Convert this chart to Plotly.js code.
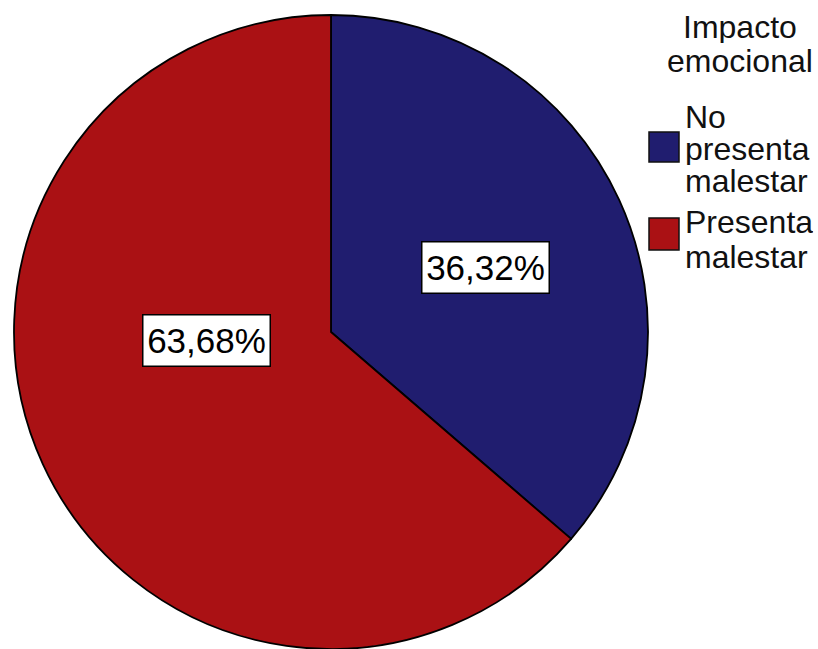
<!DOCTYPE html>
<html>
<head>
<meta charset="utf-8">
<script src="https://cdn.plot.ly/plotly-3.0.1.min.js"></script>
<style>
  html, body { margin: 0; padding: 0; background: #ffffff; }
  #chart { width: 818px; height: 649px; }
</style>
</head>
<body>
<div id="chart"></div>
<script>
// ---- data ----
const labels = ["No presenta malestar", "Presenta malestar"];
const values = [36.32, 63.68];
const colors = ["#201d6f", "#aa1114"];
const legendTitleLines = ["Impacto", "emocional"];

// ---- layout helpers (pixel -> paper) ----
const W = 818, H = 649;
const px = x => x / W;
const py = y => 1 - y / H;
const FONT = "Liberation Sans, Arial, sans-serif";

const percentText = values.map(v => v.toFixed(2).replace('.', ',') + '%');

// label box centers (pixels)
const labelPos = [[485, 267], [207, 340]];

const annotations = [];
percentText.forEach((t, i) => {
  annotations.push({
    xref: 'paper', yref: 'paper',
    x: px(labelPos[i][0]), y: py(labelPos[i][1]),
    xanchor: 'center', yanchor: 'middle',
    text: t, showarrow: false,
    font: {family: FONT, size: 35, color: '#000'},
    bgcolor: '#ffffff', bordercolor: '#000000', borderwidth: 1.5,
    width: 124, height: 48, borderpad: 1
  });
});

// legend title
const titleY = [27, 61];
legendTitleLines.forEach((t, i) => {
  annotations.push({
    xref: 'paper', yref: 'paper', x: px(740), y: py(titleY[i]),
    xanchor: 'center', yanchor: 'middle', showarrow: false,
    text: t, font: {family: FONT, size: 32, color: '#111'},
    height: 33, borderpad: 0
  });
});

// legend items
const itemLineY = [[117, 149, 181], [222, 257]];
const swatchY = [[132, 162], [218, 250]];
const shapes = [];
labels.forEach((lab, i) => {
  shapes.push({
    type: 'rect', xref: 'paper', yref: 'paper',
    x0: px(649), x1: px(679), y0: py(swatchY[i][0]), y1: py(swatchY[i][1]),
    fillcolor: colors[i], line: {color: '#111', width: 1.5}
  });
  lab.split(' ').forEach((w, j) => {
    annotations.push({
      xref: 'paper', yref: 'paper', x: px(684), y: py(itemLineY[i][j]),
      xanchor: 'left', yanchor: 'middle', showarrow: false,
      text: w, font: {family: FONT, size: 32, color: '#111'},
      height: 32, borderpad: 0
    });
  });
});

const trace = {
  type: 'pie',
  labels: labels,
  values: values,
  sort: false,
  direction: 'clockwise',
  rotation: 0,
  textinfo: 'none',
  hoverinfo: 'none',
  marker: {colors: colors, line: {color: '#000000', width: 1.8}},
  domain: {x: [13 / W, 649 / W], y: [0, 634 / H]},
  showlegend: false
};

const layout = {
  width: W, height: H,
  margin: {l: 0, r: 0, t: 0, b: 0},
  paper_bgcolor: '#ffffff',
  showlegend: false,
  annotations: annotations,
  shapes: shapes
};

Plotly.newPlot('chart', [trace], layout, {staticPlot: true, displayModeBar: false});
</script>
</body>
</html>
